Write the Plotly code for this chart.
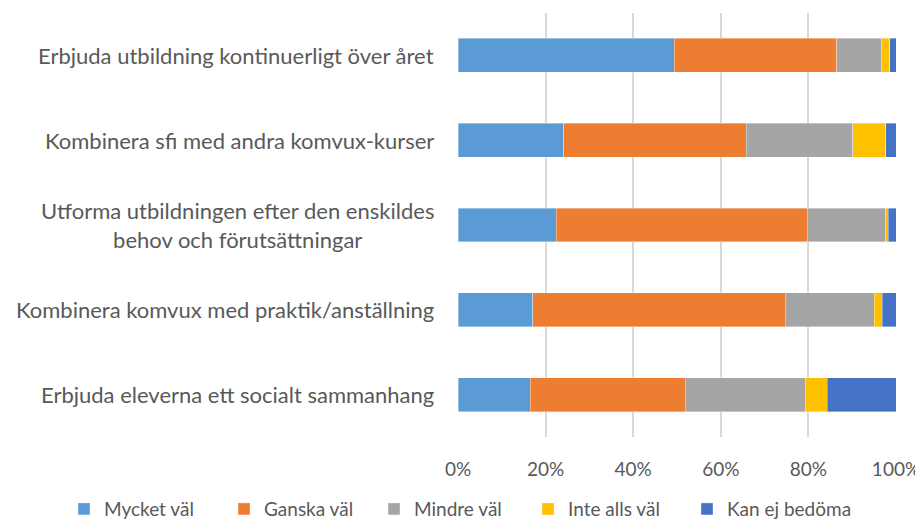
import plotly.graph_objects as go

categories = [
    "Erbjuda utbildning kontinuerligt över året",
    "Kombinera sfi med andra komvux-kurser",
    "Utforma utbildningen efter den enskildes<br>behov och förutsättningar",
    "Kombinera komvux med praktik/anställning",
    "Erbjuda eleverna ett socialt sammanhang",
]
series_names = ["Mycket väl", "Ganska väl", "Mindre väl", "Inte alls väl", "Kan ej bedöma"]
mycket_val = [49.4, 24.1, 22.4, 17.1, 16.5]
ganska_val = [37.1, 41.7, 57.3, 57.6, 35.4]
mindre_val = [10.3, 24.3, 18.0, 20.3, 27.4]
inte_alls_val = [1.8, 7.6, 0.5, 1.9, 5.0]
kan_ej_bedoma = [1.4, 2.3, 1.8, 3.1, 15.7]
tick_vals = [0, 20, 40, 60, 80, 100]
tick_text = ["0%", "20%", "40%", "60%", "80%", "100%"]
colors = ["#5B9BD5", "#ED7D31", "#A5A5A5", "#FFC000", "#4472C4"]
legend_widths = [115, 105, 109, 114, 135]

FONT = "Lato, 'Open Sans', sans-serif"
TXT = "#595959"

fig = go.Figure()
for name, vals, col, lw in zip(series_names,
                               [mycket_val, ganska_val, mindre_val, inte_alls_val, kan_ej_bedoma],
                               colors, legend_widths):
    fig.add_trace(go.Bar(
        y=categories, x=vals, name=name, orientation="h",
        marker=dict(color=col, line=dict(color="rgba(255,255,255,0.6)", width=0.6)),
        legendwidth=lw,
        hoverinfo="x+y+name",
    ))

for c in categories:
    fig.add_annotation(
        x=0, xref="paper", y=c, yref="y", xanchor="right", yanchor="middle",
        xshift=-22, text=c, showarrow=False, align="center",
        font=dict(family=FONT, size=22, color=TXT),
    )

# page body has an 8px margin, so the figure is sized to fill the 923x531 window
fig.update_layout(
    width=915, height=523,
    margin=dict(l=450, r=27, t=5, b=94, autoexpand=False),
    barmode="stack", bargap=0.6,
    paper_bgcolor="white", plot_bgcolor="white",
    font=dict(family=FONT, size=19, color=TXT),
    showlegend=True,
    legend=dict(orientation="h", x=-0.8995, xanchor="left",
                y=-0.17, yanchor="middle",
                font=dict(family=FONT, size=19, color=TXT),
                itemwidth=30, traceorder="normal", tracegroupgap=0),
    xaxis=dict(range=[0, 100], tickvals=tick_vals, ticktext=tick_text,
               showgrid=True, gridcolor="#D9D9D9", gridwidth=1.5,
               zeroline=False, showline=False,
               ticks="outside", ticklen=15, tickcolor="rgba(0,0,0,0)",
               tickfont=dict(family=FONT, size=19, color=TXT)),
    yaxis=dict(categoryorder="array", categoryarray=categories,
               autorange="reversed", showticklabels=False,
               showgrid=False, zeroline=False, showline=False),
)

fig.write_html("out.html")
